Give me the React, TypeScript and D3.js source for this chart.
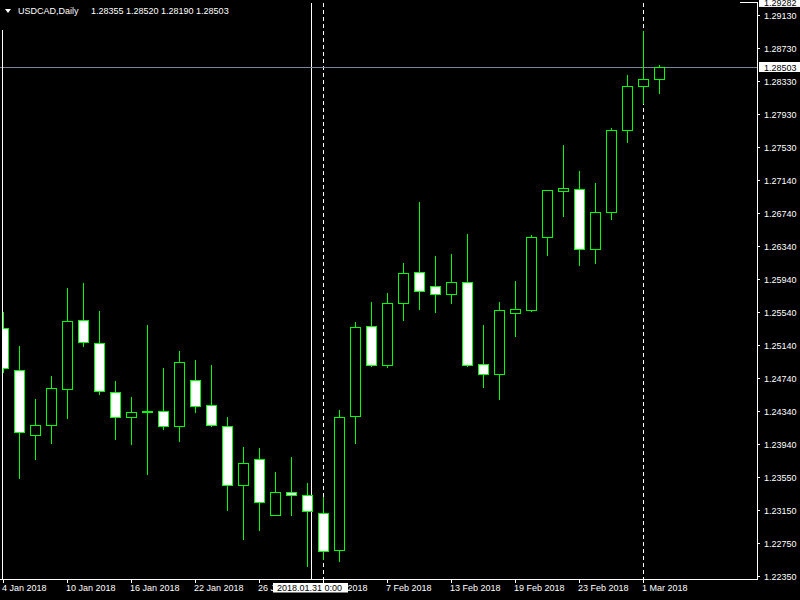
import React from "react";
import * as d3 from "d3";

const symbolTitle = "USDCAD,Daily";
const headerValues = "1.28355 1.28520 1.28190 1.28503";

const dates = [
  "2018.01.04", "2018.01.05", "2018.01.08", "2018.01.09", "2018.01.10", "2018.01.11", "2018.01.12",
  "2018.01.15", "2018.01.16", "2018.01.17", "2018.01.18", "2018.01.19", "2018.01.22", "2018.01.23",
  "2018.01.24", "2018.01.25", "2018.01.26", "2018.01.29", "2018.01.30", "2018.01.31", "2018.02.01",
  "2018.02.02", "2018.02.05", "2018.02.06", "2018.02.07", "2018.02.08", "2018.02.09", "2018.02.12",
  "2018.02.13", "2018.02.14", "2018.02.15", "2018.02.16", "2018.02.19", "2018.02.20", "2018.02.21",
  "2018.02.22", "2018.02.23", "2018.02.26", "2018.02.27", "2018.02.28", "2018.03.01", "2018.03.02",
];

const opens = [
  1.25347, 1.24839, 1.24054, 1.24174, 1.2461, 1.25444, 1.25166, 1.24573, 1.24271, 1.24332,
  1.24344, 1.24162, 1.24718, 1.24416, 1.24162, 1.23449, 1.23764, 1.23087, 1.23365, 1.23328,
  1.23111, 1.22664, 1.24283, 1.25371, 1.249, 1.25649, 1.26024, 1.25854, 1.25758, 1.25903,
  1.24912, 1.24791, 1.25528, 1.25564, 1.26447, 1.27003, 1.27027, 1.26302, 1.26749, 1.2774,
  1.28272, 1.28355,
];
const highs = [
  1.2554, 1.25129, 1.24489, 1.24767, 1.2583, 1.25891, 1.25552, 1.24706, 1.24513, 1.25383,
  1.24863, 1.25069, 1.2496, 1.249, 1.24271, 1.23909, 1.23897, 1.23606, 1.23788, 1.23473,
  1.23304, 1.24356, 1.25419, 1.25661, 1.2577, 1.26132, 1.2687, 1.26217, 1.26241, 1.26483,
  1.25383, 1.25661, 1.25915, 1.26471, 1.27015, 1.27559, 1.27244, 1.27099, 1.27764, 1.28405,
  1.28936, 1.2852,
];
const lows = [
  1.24815, 1.23534, 1.23764, 1.23957, 1.24259, 1.25129, 1.24549, 1.24005, 1.23945, 1.23582,
  1.24126, 1.23981, 1.24332, 1.24162, 1.23147, 1.22797, 1.22905, 1.23087, 1.23087, 1.2247,
  1.22555, 1.22531, 1.23957, 1.24888, 1.24875, 1.25444, 1.25576, 1.2554, 1.25649, 1.24888,
  1.24634, 1.24489, 1.2525, 1.25552, 1.26229, 1.267, 1.26108, 1.26132, 1.26664, 1.27595,
  1.28066, 1.2819,
];
const closes = [
  1.24863, 1.2409, 1.24174, 1.24622, 1.25431, 1.25178, 1.24585, 1.24271, 1.24332, 1.24344,
  1.24162, 1.24936, 1.24404, 1.24174, 1.23449, 1.23715, 1.23244, 1.23365, 1.23328, 1.23135,
  1.22652, 1.24271, 1.25359, 1.249, 1.25649, 1.26012, 1.25794, 1.25758, 1.25903, 1.249,
  1.24791, 1.25564, 1.25576, 1.26447, 1.27015, 1.27039, 1.26302, 1.26749, 1.2774, 1.28272,
  1.28356, 1.28503,
];

const priceTicks = [
  1.2913, 1.2873, 1.2833, 1.2793, 1.2753, 1.2714, 1.2674, 1.2634, 1.2594, 1.2554, 1.2514,
  1.2474, 1.2434, 1.2394, 1.2355, 1.2315, 1.2275, 1.2235,
];
const timeLabels = [
  "4 Jan 2018", "10 Jan 2018", "16 Jan 2018", "22 Jan 2018", "26 Jan 2018", "1 Feb 2018",
  "7 Feb 2018", "13 Feb 2018", "19 Feb 2018", "23 Feb 2018", "1 Mar 2018",
];
const timeLabelIdx = [0, 4, 8, 12, 16, 20, 24, 28, 32, 36, 40];
const separatorIdx = [20, 40];
const bidPrice = 1.28503;
const maxPrice = 1.29282;
const vLineIdx = 19;
const vLineLabel = "2018.01.31 0:00";

const LIME = "#00ff00";
const FONT = "'Liberation Sans', Arial, sans-serif";

export default function App() {
  const W = 800;
  const H = 600;
  const right = 757;
  const bottom = 579;
  const x = d3.scaleLinear().domain([0, dates.length - 1]).range([3, 3 + 16 * (dates.length - 1)]);
  const y = d3.scaleLinear().domain([1.2913, 1.2235]).range([15, 576]);
  const r = (v: number) => Math.round(v);

  const candles = dates.map((d, i) => {
    const o = opens[i];
    const c = closes[i];
    const cx = r(x(i));
    const top = r(y(Math.max(o, c)));
    const bot = r(y(Math.min(o, c)));
    const hy = r(y(highs[i]));
    const ly = r(y(lows[i]));
    const bull = c >= o;
    return (
      <g key={d}>
        <line x1={cx + 0.5} x2={cx + 0.5} y1={hy} y2={ly + 1} stroke={LIME} strokeWidth={1} />
        <rect
          x={cx - 5 + 0.5}
          y={top + 0.5}
          width={10}
          height={Math.max(bot - top, 1)}
          fill={bull ? "#000" : "#fff"}
          stroke={LIME}
          strokeWidth={1}
        />
      </g>
    );
  });

  const bidY = r(y(bidPrice));
  const maxY = y(maxPrice);
  const vx = r(x(vLineIdx)) + 4;

  return (
    <svg
      width={W}
      height={H}
      style={{ position: "absolute", left: 0, top: 0, display: "block" }}
      fontFamily={FONT}
      fontSize={9}
    >
      <defs>
        <clipPath id="plot">
          <rect x={3} y={3} width={right - 3} height={bottom - 3} />
        </clipPath>
      </defs>
      <rect x={0} y={0} width={W} height={H} fill="#000" />

      {/* period separators */}
      {separatorIdx.map((i) => (
        <line
          key={"sep" + i}
          x1={r(x(i)) + 0.5}
          x2={r(x(i)) + 0.5}
          y1={3}
          y2={583}
          stroke="#fff"
          strokeWidth={1}
          strokeDasharray="4,3"
        />
      ))}

      {/* vertical line object */}
      <line x1={vx + 0.5} x2={vx + 0.5} y1={3} y2={bottom} stroke="#fff" strokeWidth={1} />

      {/* bid line */}
      <line x1={0} x2={right} y1={bidY + 0.5} y2={bidY + 0.5} stroke="#778899" strokeWidth={1} />

      <g clipPath="url(#plot)">{candles}</g>

      {/* frame */}
      <line x1={2.5} x2={2.5} y1={30} y2={bottom} stroke="#fff" strokeWidth={1} />
      <line x1={right + 0.5} x2={right + 0.5} y1={2} y2={bottom + 1} stroke="#fff" strokeWidth={1} />
      <line x1={0} x2={right + 1} y1={bottom + 0.5} y2={bottom + 0.5} stroke="#fff" strokeWidth={1} />
      <line x1={740} x2={right} y1={2.5} y2={2.5} stroke="#fff" strokeWidth={1} />

      {/* price axis */}
      {priceTicks.map((p) => {
        const ty = r(y(p));
        return (
          <g key={"pt" + p}>
            <line x1={right} x2={right + 3} y1={ty + 0.5} y2={ty + 0.5} stroke="#fff" strokeWidth={1} />
            <text x={764} y={ty + 3.5} fill="#fff">
              {p.toFixed(5)}
            </text>
          </g>
        );
      })}
      <rect x={759} y={maxY - 6} width={41} height={10.5} fill="#fff" />
      <text x={764} y={maxY + 3.5} fill="#000">
        {maxPrice.toFixed(5)}
      </text>
      <rect x={759} y={bidY - 5} width={41} height={10} fill="#fff" />
      <text x={764} y={bidY + 3.5} fill="#000">
        {bidPrice.toFixed(5)}
      </text>

      {/* time axis */}
      {timeLabelIdx.map((i, k) => {
        const tx = r(x(i));
        return (
          <g key={"tl" + i}>
            <line x1={tx + 0.5} x2={tx + 0.5} y1={bottom} y2={583} stroke="#fff" strokeWidth={1} />
            <text x={tx - 1} y={591} fill="#fff">
              {timeLabels[k]}
            </text>
          </g>
        );
      })}
      <rect x={273} y={583} width={75} height={9.5} fill="#fff" />
      <text x={277} y={591} fill="#000">
        {vLineLabel}
      </text>

      {/* header */}
      <polygon points="5,9 11,9 8,13" fill="#fff" />
      <text x={18} y={14} fill="#fff">
        {symbolTitle}
      </text>
      <text x={91} y={14} fill="#fff">
        {headerValues}
      </text>
    </svg>
  );
}
